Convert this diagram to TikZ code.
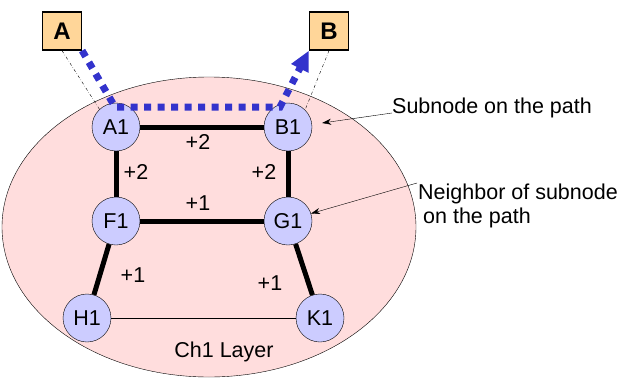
\documentclass[tikz,border=0pt]{standalone}
\usepackage{fontspec}
\setmainfont{Liberation Sans}
\usepackage{tikz}
\usetikzlibrary{arrows.meta,calc}

\definecolor{layerpink}{RGB}{255,221,221}
\definecolor{subblue}{RGB}{204,204,255}
\definecolor{tagorange}{RGB}{255,214,153}
\definecolor{pathblue}{RGB}{51,51,204}

\begin{document}
\begin{tikzpicture}[x=1pt, y=-1pt, font=\fontsize{21.5}{24}\selectfont,
  sub/.style={circle, draw, fill=subblue, minimum size=48pt, inner sep=0pt},
  tag/.style={draw, line width=1.2pt, fill=tagorange, minimum width=39pt, minimum height=38pt, inner sep=0pt, font=\fontsize{24}{26}\selectfont\bfseries},
  heavy/.style={line width=5pt},
  cost/.style={inner sep=1pt},
  note/.style={-{Stealth[length=9pt,width=6pt]}, thin}]
\useasboundingbox (0,0) rectangle (643,378);

% layer
\draw[fill=layerpink] (209,227) ellipse [x radius=207, y radius=150];
\node (layer) at (224,352) {Ch1 Layer};

% subnodes
\node[sub] (A1) at (116,127) {A1};
\node[sub] (B1) at (288,127) {B1};
\node[sub] (F1) at (116,221) {F1};
\node[sub] (G1) at (288,221) {G1};
\node[sub] (H1) at (87,318) {H1};
\node[sub] (K1) at (320,318) {K1};

\draw[heavy] (A1) -- (B1);
\draw[heavy] (A1) -- (F1);
\draw[heavy] (B1) -- (G1);
\draw[heavy] (F1) -- (G1);
\draw[heavy] (F1) -- (H1);
\draw[heavy] (G1) -- (K1);
\draw (H1) -- (K1);

\node[cost] at (198,142) {+2};
\node[cost] at (136,172) {+2};
\node[cost] at (264,172) {+2};
\node[cost] at (198,203) {+1};
\node[cost] at (133,275) {+1};
\node[cost] at (270,283) {+1};

% end points
\node[tag] (A) at (62,31) {A};
\node[tag] (B) at (329,31) {B};
\draw[thin, dash dot] (A.south) -- (A1.133);
\draw[thin, dash dot] (B.south) -- (B1.45);

% path through the layer
\coordinate (pa) at (115,107);
\coordinate (pb) at (280,107);
\draw[pathblue, line width=7pt, dash pattern=on 7pt off 6.5pt, -{Triangle[length=20pt,width=18pt]}]
  (A.south east) -- (pa) -- (pb) -- (B.south west);

% notes
\node[anchor=west, inner sep=0pt] (onpath) at (392,108) {Subnode on the path};
\node[anchor=west, align=left, inner sep=0pt] (nbr) at (418,206) {Neighbor of subnode\\\hspace{5pt}on the path};
\coordinate (onpathend) at (392,113);
\coordinate (nbrend) at (417,183);
\draw[note] (onpathend) -- ($(B1.east)+(10,-4)$);
\draw[note] (nbrend) -- (G1.18);
\end{tikzpicture}
\end{document}
